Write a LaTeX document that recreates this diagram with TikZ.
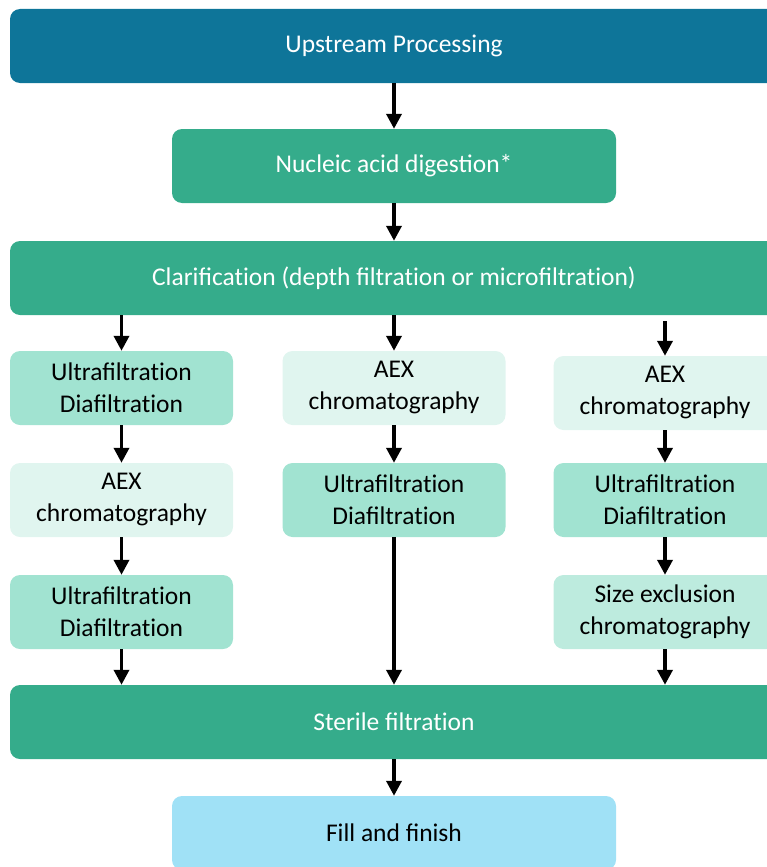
\documentclass[tikz,border=0pt]{standalone}
\usepackage{fontspec}
\setmainfont{Carlito}
\usetikzlibrary{arrows.meta}
\newcommand\nti{t\kern0pt i}
\definecolor{cblue}{RGB}{14,117,153}
\definecolor{cgreen}{RGB}{53,172,139}
\definecolor{cmid}{RGB}{161,227,209}
\definecolor{clight}{RGB}{224,245,239}
\definecolor{csec}{RGB}{189,235,222}
\definecolor{cfill}{RGB}{160,225,246}
\tikzset{
  box/.style={rounded corners=10pt, minimum height=74pt, inner sep=2pt,
    align=center, font=\fontsize{25.5}{32}\selectfont},
  wide/.style={box, minimum width=768pt},
  mid/.style={box, minimum width=444pt},
  colbox/.style={box, minimum width=223pt, text=black},
  arr/.style={line width=3.6pt, -{Triangle[length=15pt,width=15pt]}},
}
\begin{document}
\begin{tikzpicture}[x=1pt,y=1pt]
\useasboundingbox (0,0) rectangle (766,-867);
\node[wide, fill=cblue, text=white] (up) at (394,-46) {Upstream Processing};
\node[mid, fill=cgreen, text=white] (nuc) at (394,-166) {Nucleic acid digestion*};
\node[wide, fill=cgreen, text=white] (clar) at (394,-278) {Clarifica\nti on (depth filtra\nti on or microfiltra\nti on)};
\node[colbox, fill=cmid] (l1) at (121.5,-388) {Ultrafiltra\nti on\\Diafiltra\nti on};
\node[colbox, fill=clight] (l2) at (121.5,-500) {AEX\\chromatography};
\node[colbox, fill=cmid] (l3) at (121.5,-612) {Ultrafiltra\nti on\\Diafiltra\nti on};
\node[colbox, fill=clight] (m1) at (394,-388) {AEX\\chromatography};
\node[colbox, fill=cmid] (m2) at (394,-500) {Ultrafiltra\nti on\\Diafiltra\nti on};
\node[colbox, fill=clight] (r1) at (665,-393) {AEX\\chromatography};
\node[colbox, fill=cmid] (r2) at (665,-500) {Ultrafiltra\nti on\\Diafiltra\nti on};
\node[colbox, fill=csec] (r3) at (665,-612) {Size exclusion\\chromatography};
\node[wide, fill=cgreen, text=white] (ster) at (394,-722) {Sterile filtra\nti on};
\node[mid, fill=cfill, text=black] (fill) at (394,-833) {Fill and finish};
\draw[arr] (up) -- (nuc);
\draw[arr] (nuc) -- (clar);
\draw[arr] (l1.north |- clar.south) -- (l1.north);
\draw[arr] (m1.north |- clar.south) -- (m1.north);
\draw[arr, shorten <=6pt] (r1.north |- clar.south) -- (r1.north);
\draw[arr] (l1) -- (l2);
\draw[arr] (l2) -- (l3);
\draw[arr] (l3.south) -- (l3.south |- ster.north);
\draw[arr] (m1) -- (m2);
\draw[arr] (m2.south) -- (m2.south |- ster.north);
\draw[arr] (r1) -- (r2);
\draw[arr] (r2) -- (r3);
\draw[arr] (r3.south) -- (r3.south |- ster.north);
\draw[arr] (ster) -- (fill);
\end{tikzpicture}
\end{document}
